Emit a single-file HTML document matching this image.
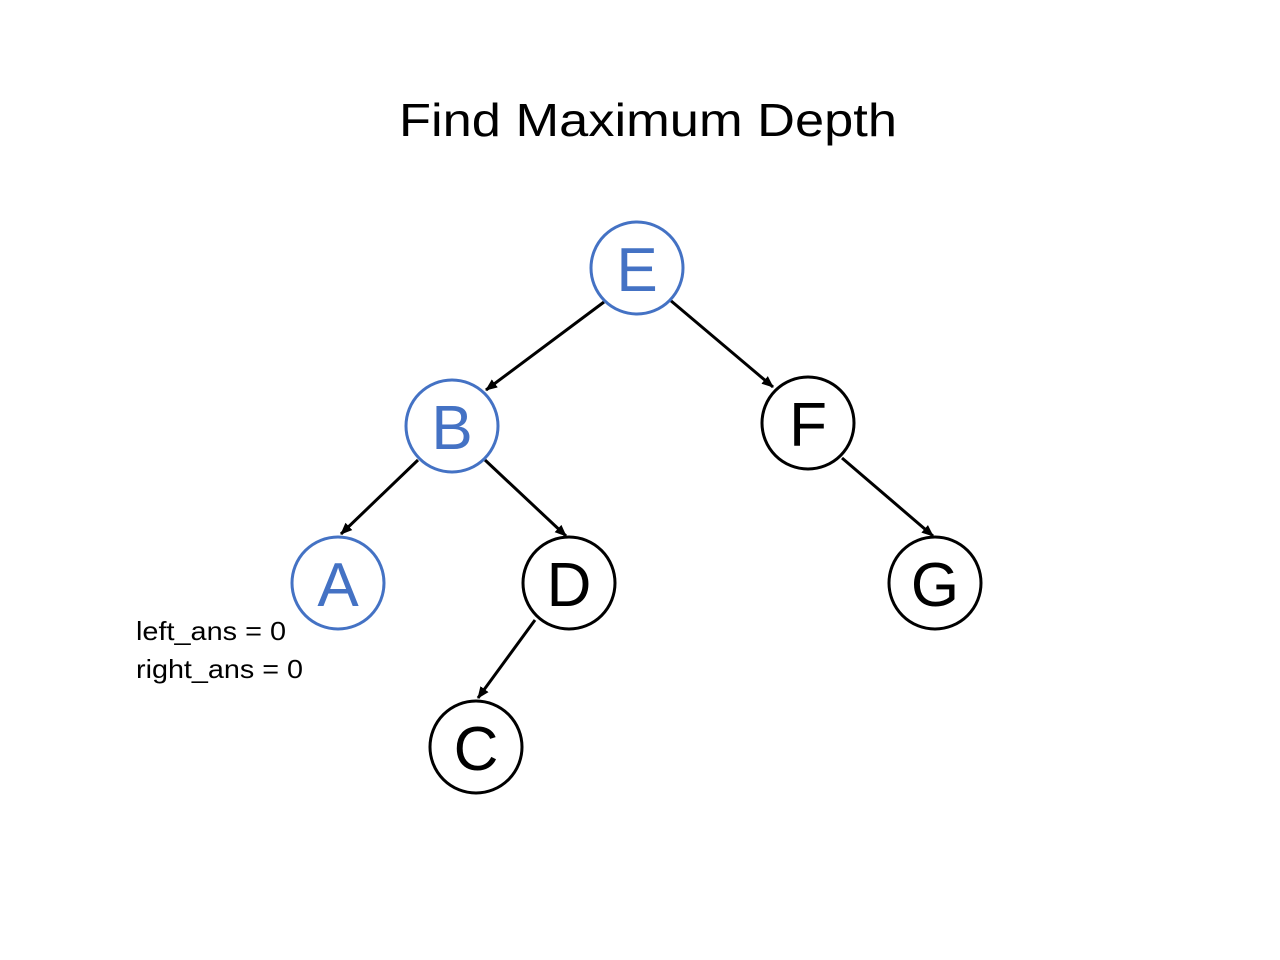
<!DOCTYPE html>
<html><head><meta charset="utf-8"><style>
html,body{margin:0;padding:0;background:#fff;}
svg{display:block}
</style></head><body>
<svg width="1280" height="960" viewBox="0 0 1280 960" xmlns="http://www.w3.org/2000/svg">
<defs>
<marker id="ar" markerWidth="12" markerHeight="12" refX="11" refY="6" orient="auto" markerUnits="userSpaceOnUse">
<path d="M0,1 L12,6 L0,11 Z" fill="#000"/>
</marker>
</defs>
<text x="648" y="136" text-anchor="middle" font-family="Liberation Sans, sans-serif" font-size="46" fill="#000" textLength="498" lengthAdjust="spacingAndGlyphs">Find Maximum Depth</text>
<g stroke="#000" stroke-width="3" marker-end="url(#ar)">
<line x1="604" y1="302" x2="486" y2="390"/>
<line x1="670" y1="300" x2="773" y2="387"/>
<line x1="418" y1="460" x2="341" y2="534"/>
<line x1="485" y1="460" x2="566" y2="536"/>
<line x1="842" y1="458" x2="933" y2="536"/>
<line x1="535" y1="620" x2="478" y2="698"/>
</g>
<g fill="#fff" stroke-width="3">
<circle cx="637" cy="268" r="46" stroke="#4472C4"/>
<circle cx="452" cy="426" r="46" stroke="#4472C4"/>
<circle cx="808" cy="423" r="46" stroke="#000"/>
<circle cx="338" cy="583" r="46" stroke="#4472C4"/>
<circle cx="569" cy="583" r="46" stroke="#000"/>
<circle cx="935" cy="583" r="46" stroke="#000"/>
<circle cx="476" cy="747" r="46" stroke="#000"/>
</g>
<g font-family="Liberation Sans, sans-serif" font-size="62" text-anchor="middle">
<text x="637" y="291" fill="#4472C4">E</text>
<text x="452" y="449" fill="#4472C4">B</text>
<text x="808" y="446" fill="#000">F</text>
<text x="338" y="606" fill="#4472C4">A</text>
<text x="569" y="606" fill="#000">D</text>
<text x="935" y="606" fill="#000">G</text>
<text x="476" y="770" fill="#000">C</text>
</g>
<g font-family="Liberation Sans, sans-serif" font-size="26" fill="#000">
<text x="136" y="640" textLength="150" lengthAdjust="spacingAndGlyphs">left_ans = 0</text>
<text x="136" y="678" textLength="167" lengthAdjust="spacingAndGlyphs">right_ans = 0</text>
</g>
</svg>
</body></html>
